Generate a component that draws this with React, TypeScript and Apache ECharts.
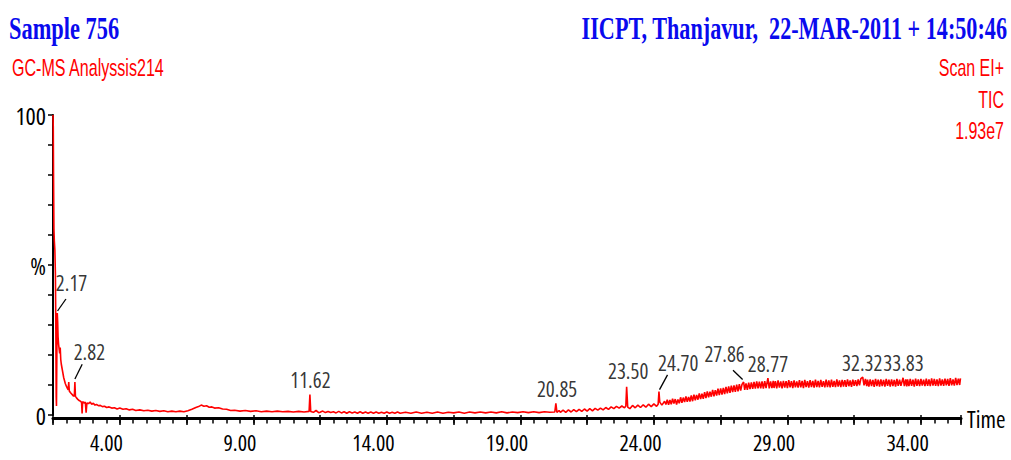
import React, { useEffect, useRef } from "react";
import * as echarts from "echarts";

// ---------- texts ----------
const titleLeft = "Sample 756";
const titleRight = "IICPT, Thanjavur,  22-MAR-2011 + 14:50:46";
const subtitle = "GC-MS Analyssis214";
const scanInfo = ["Scan EI+", "TIC", "1.93e7"];
const xAxisName = "Time";

// ---------- axis ----------
const xMin = 2;
const xMax = 36;
const xLabelTicks = [4, 9, 14, 19, 24, 29, 34];
const yLabelMap: Record<number, string> = { 100: "100", 50: "%", 0: "0" };

// ---------- TIC trace: [retention time (min), relative intensity (%)] ----------
const ticEarly: [number, number][] = [
  [2.0, 100], [2.01, 96], [2.02, 80], [2.035, 62], [2.05, 58], [2.07, 55], [2.09, 47],
  [2.105, 30], [2.12, 6], [2.13, 3], [2.145, 22], [2.16, 34], [2.175, 31], [2.19, 26],
  [2.21, 23.5], [2.23, 22], [2.25, 20.5], [2.27, 22.5], [2.29, 18.5], [2.31, 17],
  [2.34, 15.5], [2.37, 14], [2.4, 12.5], [2.43, 11.5], [2.46, 10.5], [2.5, 9.6],
  [2.54, 8.9], [2.57, 8.4], [2.59, 11], [2.61, 8], [2.65, 7.5], [2.69, 7.1], [2.73, 6.7],
  [2.77, 6.3], [2.8, 6.4], [2.82, 11], [2.84, 6.2], [2.88, 5.7], [2.93, 5.2], [2.98, 4.8],
  [3.03, 4.6], [3.07, 4.2], [3.09, 0.5], [3.11, 4.5], [3.16, 4.0], [3.21, 4.3], [3.24, 0.8],
  [3.27, 4.0], [3.33, 3.8], [3.39, 4.3], [3.45, 3.6], [3.51, 3.9], [3.57, 3.3], [3.63, 3.5],
  [3.7, 3.1], [3.77, 3.2], [3.85, 2.8], [3.93, 2.9], [4.01, 2.5], [4.1, 2.7], [4.2, 2.3],
  [4.3, 2.4], [4.4, 2.0], [4.5, 2.3], [4.62, 1.9], [4.74, 2.1], [4.86, 1.7], [4.98, 1.9],
  [5.1, 1.5], [5.25, 1.7], [5.4, 1.4], [5.55, 1.6], [5.7, 1.3], [5.85, 1.5], [6.0, 1.2],
  [6.15, 1.4], [6.3, 1.1], [6.45, 1.3], [6.6, 1.1], [6.75, 1.3], [6.9, 1.1], [7.05, 1.4],
  [7.2, 1.9], [7.35, 2.5], [7.45, 2.8], [7.55, 3.3], [7.65, 2.9], [7.75, 3.1], [7.85, 2.6],
  [7.95, 2.7], [8.05, 2.3], [8.2, 2.4], [8.35, 2.0], [8.5, 1.9], [8.65, 1.5], [8.8, 1.6],
  [9.0, 1.3], [9.2, 1.5], [9.4, 1.2], [9.6, 1.4], [9.8, 1.1], [10.0, 1.3], [10.2, 1.1],
  [10.4, 1.3], [10.6, 1.1], [10.8, 1.2], [11.0, 1.0], [11.2, 1.2], [11.4, 1.0], [11.59, 1.2],
  [11.62, 6.8], [11.65, 1.2], [11.75, 0.9], [11.85, 1.5], [11.95, 0.8],
];
const ticMiddle: [number, number][] = [
  [12.0, 0.9], [12.1, 1.3], [12.2, 0.8], [12.3, 1.2], [12.4, 0.8], [12.5, 1.1], [12.6, 0.7],
  [12.7, 1.2], [12.8, 0.7], [12.9, 1.1], [13.0, 0.6], [13.1, 1.1], [13.2, 0.7], [13.3, 1.0],
  [13.4, 0.6], [13.5, 1.1], [13.6, 0.6], [13.7, 1.0], [13.8, 0.6], [13.9, 1.0], [14.0, 0.6],
  [14.1, 1.0], [14.2, 0.6], [14.3, 0.9], [14.4, 0.6], [14.5, 1.0], [14.6, 0.6], [14.7, 0.9],
  [14.8, 0.6], [14.9, 1.0], [15.0, 0.6], [15.2, 0.9], [15.4, 0.6], [15.6, 1.0], [15.8, 0.6],
  [16.0, 0.9], [16.2, 0.6], [16.4, 1.0], [16.6, 0.6], [16.8, 0.9], [17.0, 0.7], [17.2, 1.0],
  [17.4, 0.6], [17.6, 1.0], [17.8, 0.7], [18.0, 1.0], [18.2, 0.7], [18.4, 1.0], [18.6, 0.7],
  [18.8, 1.1], [19.0, 0.7], [19.2, 1.0], [19.4, 0.8], [19.6, 1.1], [19.8, 0.8], [20.0, 1.1],
  [20.2, 0.8], [20.4, 1.1], [20.6, 0.9], [20.79, 1.0], [20.83, 3.9], [20.87, 0.9], [20.95, 1.5],
  [21.0, 0.9], [21.1, 1.6], [21.2, 0.9], [21.3, 1.7], [21.4, 1.0], [21.5, 1.8], [21.6, 1.1],
  [21.7, 1.9], [21.8, 1.2], [21.9, 2.0], [22.0, 1.3], [22.1, 2.1], [22.2, 1.4], [22.3, 2.2],
  [22.4, 1.6], [22.5, 2.3], [22.6, 1.7], [22.7, 2.5], [22.8, 1.9], [22.9, 2.7], [23.0, 2.1],
  [23.1, 2.9], [23.2, 2.3], [23.3, 3.0], [23.4, 2.4], [23.45, 3.0], [23.48, 9.4], [23.52, 2.6],
  [23.6, 2.1], [23.7, 3.2], [23.8, 2.4], [23.9, 3.3], [24.0, 2.5], [24.1, 3.4], [24.2, 2.6],
  [24.3, 3.6], [24.4, 2.8], [24.5, 3.7], [24.6, 2.9], [24.66, 3.6], [24.69, 7.8], [24.72, 4.3],
  [24.8, 3.3], [24.9, 4.6], [24.95, 3.5],
];
const ticLate: [number, number][] = [
  [25.0, 5.1], [25.05, 3.4], [25.1, 5.0], [25.15, 3.6], [25.2, 5.4], [25.25, 3.8], [25.3, 5.3], [25.35, 3.5], [25.4, 5.2], [25.45, 3.9],
  [25.5, 5.9], [25.55, 4.1], [25.6, 5.8], [25.65, 4.3], [25.7, 6.2], [25.75, 4.4], [25.8, 6.0], [25.85, 4.5], [25.9, 6.5], [25.95, 4.6],
  [26.0, 6.8], [26.05, 4.9], [26.1, 6.7], [26.15, 5.1], [26.2, 7.2], [26.25, 5.3], [26.3, 7.1], [26.35, 5.4], [26.4, 7.6], [26.45, 5.6],
  [26.5, 7.9], [26.55, 5.9], [26.6, 7.8], [26.65, 6.1], [26.7, 8.4], [26.75, 6.2], [26.8, 8.3], [26.85, 6.5], [26.9, 8.8], [26.95, 6.6],
  [27.0, 8.9], [27.05, 6.8], [27.1, 9.0], [27.15, 7.0], [27.2, 9.4], [27.25, 7.2], [27.3, 9.5], [27.35, 7.4], [27.4, 9.8], [27.45, 7.6],
  [27.5, 9.9], [27.55, 7.7], [27.6, 10.1], [27.65, 7.9], [27.7, 10.3], [27.75, 8.1], [27.8, 10.2], [27.86, 11.0], [27.9, 8.4], [27.95, 10.5],
  [28.0, 8.4], [28.05, 10.8], [28.1, 8.6], [28.15, 10.9], [28.2, 8.7], [28.25, 11.0], [28.3, 8.8], [28.35, 11.2], [28.4, 8.9], [28.45, 11.1],
  [28.5, 8.9], [28.55, 11.2], [28.6, 8.8], [28.65, 11.3], [28.7, 9.0], [28.77, 12.3], [28.82, 8.9], [28.87, 11.2], [28.92, 9.0], [28.97, 11.4],
  [29.0, 9.0], [29.05, 11.3], [29.1, 8.9], [29.15, 11.5], [29.2, 9.1], [29.25, 11.2], [29.3, 8.9], [29.35, 11.4], [29.4, 9.1], [29.45, 11.3],
  [29.5, 9.0], [29.55, 11.6], [29.6, 9.2], [29.65, 11.3], [29.7, 9.0], [29.75, 11.5], [29.8, 9.2], [29.85, 11.2], [29.9, 9.1], [29.95, 11.6],
  [30.0, 9.2], [30.05, 11.4], [30.1, 9.0], [30.15, 11.7], [30.2, 9.3], [30.25, 11.3], [30.3, 9.1], [30.35, 11.6], [30.4, 9.3], [30.45, 11.4],
  [30.5, 9.1], [30.55, 11.8], [30.6, 9.3], [30.65, 11.4], [30.7, 9.2], [30.75, 11.7], [30.8, 9.4], [30.85, 11.3], [30.9, 9.2], [30.95, 11.8],
  [31.0, 9.3], [31.05, 11.5], [31.1, 9.2], [31.15, 11.8], [31.2, 9.4], [31.25, 11.4], [31.3, 9.3], [31.35, 11.9], [31.4, 9.5], [31.45, 11.5],
  [31.5, 9.3], [31.55, 11.7], [31.6, 9.5], [31.65, 11.6], [31.7, 9.4], [31.75, 11.9], [31.8, 9.6], [31.85, 11.5], [31.9, 9.4], [31.95, 11.8],
  [32.0, 9.7], [32.05, 11.6], [32.1, 9.6], [32.15, 11.9], [32.2, 9.9], [32.25, 12.1], [32.32, 12.6], [32.37, 9.9], [32.42, 12.0], [32.47, 9.6],
  [32.5, 11.8], [32.55, 9.5], [32.6, 11.9], [32.65, 9.6], [32.7, 11.7], [32.75, 9.4], [32.8, 12.0], [32.85, 9.6], [32.9, 11.8], [32.95, 9.5],
  [33.0, 11.9], [33.05, 9.6], [33.1, 11.7], [33.15, 9.5], [33.2, 12.0], [33.25, 9.7], [33.3, 11.8], [33.35, 9.5], [33.4, 11.9], [33.45, 9.6],
  [33.5, 11.7], [33.55, 9.5], [33.6, 12.0], [33.65, 9.7], [33.7, 11.8], [33.75, 9.7], [33.83, 12.4], [33.88, 9.6], [33.93, 11.9], [33.97, 9.5],
  [34.0, 11.9], [34.05, 9.6], [34.1, 12.0], [34.15, 9.7], [34.2, 11.8], [34.25, 9.5], [34.3, 12.1], [34.35, 9.7], [34.4, 11.9], [34.45, 9.6],
  [34.5, 12.0], [34.55, 9.8], [34.6, 11.8], [34.65, 9.6], [34.7, 12.1], [34.75, 9.7], [34.8, 11.9], [34.85, 9.6], [34.9, 12.2], [34.95, 9.8],
  [35.0, 12.0], [35.05, 9.7], [35.1, 11.9], [35.15, 9.6], [35.2, 12.2], [35.25, 9.8], [35.3, 11.9], [35.35, 9.7], [35.4, 12.1], [35.45, 9.9],
  [35.5, 12.0], [35.55, 9.7], [35.6, 12.3], [35.65, 9.9], [35.7, 11.9], [35.75, 9.8], [35.8, 12.4], [35.85, 10.0], [35.9, 12.1], [35.95, 10.0],
  [35.98, 12.2],
];

// ---------- labelled peaks ----------
const peakTimes = [2.17, 2.82, 11.62, 20.85, 23.5, 24.7, 27.86, 28.77, 32.32, 33.83];
const peakHeights = [34, 11, 6.8, 3.9, 9.4, 7.8, 10.6, 11.7, 12.0, 11.8];
const peakLabels = ["2.17", "2.82", "11.62", "20.85", "23.50", "24.70", "27.86", "28.77", "32.32", "33.83"];

// layout of peak labels (pixel offsets of label centre from apex)
const labelOffsets: [number, number][] = [
  [14, -30], [14.5, -30], [0.5, -15], [0.7, -14], [1, -15.7],
  [19, -29], [-19, -29], [0, -16], [-0.5, -16], [0.5, -16.6],
];
// leader lines: peak index, start px offset, end px offset
const leaders: [number, [number, number], [number, number]][] = [
  [0, [0, -2], [8.4, -14]],
  [1, [0, -3], [7.3, -17.7]],
  [5, [0.3, -2], [8.3, -16.7]],
  [6, [-1, -3.7], [-10.6, -13]],
];

const GRID = { left: 53, right: 50, top: 115, bottom: 45 };
const W = 1011;
const H = 460;
const COND = "'Open Sans', sans-serif";
const SANS = "'Liberation Sans', Arial, sans-serif";
const SERIF = "'Liberation Serif', 'Times New Roman', serif";
const css = ".gcms-chart text { font-stretch: 75% !important; }";

export default function App() {
  const ref = useRef<HTMLDivElement>(null);

  useEffect(() => {
    if (!ref.current) return;
    const chart = echarts.init(ref.current, undefined, { renderer: "svg" });

    const plotW = W - GRID.left - GRID.right;
    const plotH = H - GRID.top - GRID.bottom;
    const pxPerMin = plotW / (xMax - xMin);
    const pxPerPct = plotH / 100;
    const toData = (i: number, off: [number, number]) => [
      peakTimes[i] + off[0] / pxPerMin,
      peakHeights[i] - off[1] / pxPerPct,
    ];

    const isLabelTick = (v: number) => xLabelTicks.some((t) => Math.abs(t - v) < 1e-6);
    const ticTrace = [...ticEarly, ...ticMiddle, ...ticLate];

    const option: any = {
      animation: false,
      backgroundColor: "#ffffff",
      grid: { ...GRID, containLabel: false, outerBoundsMode: "none" },
      xAxis: [
        {
          type: "value",
          min: xMin,
          max: xMax,
          interval: 0.5,
          position: "bottom",
          offset: 3.5,
          axisLine: { show: true, onZero: false, lineStyle: { color: "#000", width: 3 } },
          axisTick: { show: true, length: 5, lineStyle: { color: "#000", width: 1.5 } },
          axisLabel: {
            formatter: (v: number) => (isLabelTick(v) ? v.toFixed(2) : ""),
            fontSize: 22,
            fontFamily: COND,
            color: "#000",
            margin: 12,
            showMinLabel: true,
            showMaxLabel: true,
          },
          splitLine: { show: false },
          name: xAxisName,
          nameLocation: "end",
          nameGap: 6,
          nameTextStyle: { fontSize: 23, fontFamily: COND, color: "#000", verticalAlign: "middle" },
        },
        {
          type: "value",
          min: xMin + 1,
          max: xMax + 1,
          interval: 2.5,
          position: "bottom",
          offset: 3.5,
          axisLine: { show: false },
          axisTick: { show: true, length: 10, lineStyle: { color: "#000", width: 1.5 } },
          axisLabel: { show: false },
          splitLine: { show: false },
        },
      ],
      yAxis: {
        type: "value",
        min: 0,
        max: 100,
        interval: 10,
        axisLine: { show: true, lineStyle: { color: "#000", width: 2 } },
        axisTick: { show: true, length: 5, lineStyle: { color: "#000", width: 1.5 } },
        axisLabel: {
          formatter: (v: number) => yLabelMap[v] ?? "",
          fontSize: 24,
          fontFamily: COND,
          color: "#000",
          margin: 7,
        },
        splitLine: { show: false },
      },
      series: [
        {
          type: "line",
          xAxisIndex: 0,
          data: ticTrace,
          showSymbol: false,
          symbol: "none",
          lineStyle: { color: "#ff0000", width: 1.6 },
          silent: true,
        },
        {
          type: "scatter",
          xAxisIndex: 0,
          symbol: "circle",
          symbolSize: 1,
          itemStyle: { color: "rgba(0,0,0,0)" },
          silent: true,
          data: peakTimes.map((t, i) => ({
            value: [t, peakHeights[i]],
            name: peakLabels[i],
            label: { offset: labelOffsets[i] },
          })),
          label: {
            show: true,
            position: "inside",
            formatter: (p: any) => p.name,
            fontSize: 21,
            fontFamily: COND,
            color: "#000",
            align: "center",
            verticalAlign: "middle",
          },
          markLine: {
            silent: true,
            symbol: ["none", "none"],
            label: { show: false },
            lineStyle: { color: "#000", width: 1.3, type: "solid" },
            data: leaders.map(([i, a, b]) => [{ coord: toData(i, a) }, { coord: toData(i, b) }]),
          },
        },
      ],
      graphic: [
        {
          type: "text",
          x: 9,
          y: 28,
          scaleX: 0.7,
          style: { text: titleLeft, fill: "#0a0aee", font: `bold 32px ${SERIF}`, align: "left", verticalAlign: "middle" },
        },
        {
          type: "text",
          x: 1007,
          y: 28,
          scaleX: 0.693,
          style: { text: titleRight, fill: "#0a0aee", font: `bold 32px ${SERIF}`, align: "right", verticalAlign: "middle" },
        },
        {
          type: "text",
          x: 12,
          y: 68,
          scaleX: 0.67,
          style: { text: subtitle, fill: "#ff0000", font: `24px ${SANS}`, align: "left", verticalAlign: "middle" },
        },
        ...scanInfo.map((t, i) => ({
          type: "text",
          x: 1004,
          y: [68, 100, 131][i],
          scaleX: 0.665,
          style: { text: t, fill: "#ff0000", font: `24px ${SANS}`, align: "right", verticalAlign: "middle" },
        })),
      ],
    };

    chart.setOption(option);
    return () => chart.dispose();
  }, []);

  return (
    <>
      <style>{css}</style>
      <div
        ref={ref}
        className="gcms-chart"
        style={{ position: "fixed", left: 0, top: 0, width: W, height: H, background: "#fff" }}
      />
    </>
  );
}
